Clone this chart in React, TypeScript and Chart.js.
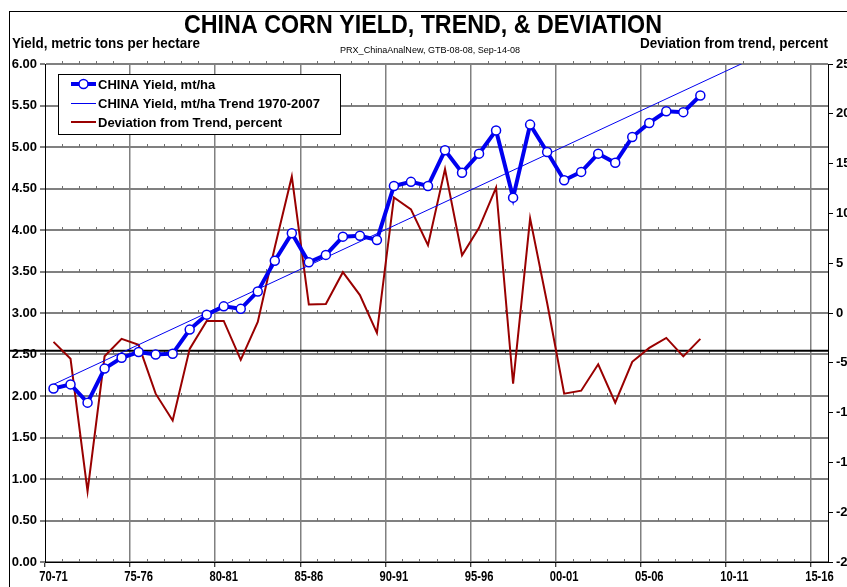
import React, { useEffect, useRef } from "react";
import { Chart, registerables } from "chart.js";

Chart.register(...registerables);

const categories = [
  "70-71", "71-72", "72-73", "73-74", "74-75", "75-76", "76-77", "77-78", "78-79", "79-80",
  "80-81", "81-82", "82-83", "83-84", "84-85", "85-86", "86-87", "87-88", "88-89", "89-90",
  "90-91", "91-92", "92-93", "93-94", "94-95", "95-96", "96-97", "97-98", "98-99", "99-00",
  "00-01", "01-02", "02-03", "03-04", "04-05", "05-06", "06-07", "07-08", "08-09", "09-10",
  "10-11", "11-12", "12-13", "13-14", "14-15", "15-16",
];

const yieldValues = [
  2.09, 2.14, 1.92, 2.33, 2.46, 2.53, 2.5, 2.51, 2.8, 2.98,
  3.08, 3.05, 3.26, 3.63, 3.96, 3.61, 3.7, 3.92, 3.93, 3.88,
  4.53, 4.58, 4.53, 4.96, 4.69, 4.92, 5.2, 4.39, 5.27, 4.94,
  4.6, 4.7, 4.92, 4.81, 5.12, 5.29, 5.43, 5.42, 5.62,
];

const deviationValues = [
  -2.9, -4.6, -17.9, -4.35, -2.6, -3.2, -8.1, -10.8, -3.6, -0.8,
  -0.8, -4.7, -0.9, 6.6, 13.7, 0.85, 0.9, 4.1, 1.8, -2.0,
  11.6, 10.4, 6.8, 14.45, 5.8, 8.55, 12.6, -7.1, 9.5, 1.0,
  -8.1, -7.8, -5.15, -9.0, -4.9, -3.5, -2.5, -4.35, -2.6,
];

const trendStart = 2.14;
const trendEnd = 6.44;
const referenceLineValue = -3.8;

const yieldTicks = { min: 0, max: 6, step: 0.5 };
const deviationTicks = { min: -25, max: 25, step: 5 };

const titleText = "CHINA CORN YIELD, TREND, & DEVIATION";
const subtitleText = "PRX_ChinaAnalNew, GTB-08-08, Sep-14-08";
const leftAxisTitle = "Yield, metric tons per hectare";
const rightAxisTitle = "Deviation from trend, percent";
const legendLabels = [
  "CHINA Yield, mt/ha",
  "CHINA Yield, mt/ha Trend 1970-2007",
  "Deviation from Trend, percent",
];

const BLUE = "#0000f0";
const RED = "#990000";
const GRID = "#808080";
const FONT = "'Liberation Sans', Arial, sans-serif";

function fitText(
  ctx: CanvasRenderingContext2D,
  text: string,
  x: number,
  y: number,
  font: string,
  width: number,
  align: CanvasTextAlign
) {
  ctx.save();
  ctx.font = font;
  const w = ctx.measureText(text).width;
  ctx.translate(x, y);
  ctx.scale(width / w, 1);
  ctx.textAlign = align;
  ctx.textBaseline = "alphabetic";
  ctx.fillStyle = "#000";
  ctx.fillText(text, 0, 0);
  ctx.restore();
}

function narrowText(
  ctx: CanvasRenderingContext2D,
  text: string,
  x: number,
  y: number,
  font: string,
  scaleX: number
) {
  ctx.save();
  ctx.font = font;
  ctx.translate(x, y);
  ctx.scale(scaleX, 1);
  ctx.textAlign = "center";
  ctx.textBaseline = "middle";
  ctx.fillStyle = "#000";
  ctx.fillText(text, 0, 0);
  ctx.restore();
}

const decorPlugin = {
  id: "decor",
  beforeDatasetsDraw(chart: any) {
    const { ctx, chartArea, scales } = chart;
    const x = scales.x;
    const y = scales.y;
    const y1 = scales.y1;
    ctx.save();
    ctx.strokeStyle = "#707070";
    ctx.lineWidth = 1;
    for (let v = yieldTicks.min; v <= yieldTicks.max + 1e-9; v += yieldTicks.step) {
      const py = Math.round(y.getPixelForValue(v));
      for (let i = 1; i < categories.length; i++) {
        if (i % 5 === 0) continue;
        const px = Math.round((x.getPixelForValue(i - 1) + x.getPixelForValue(i)) / 2) + 0.5;
        ctx.beginPath();
        ctx.moveTo(px, py - 3);
        ctx.lineTo(px, py);
        ctx.stroke();
      }
    }
    const ry = y1.getPixelForValue(referenceLineValue);
    ctx.strokeStyle = "#000";
    ctx.lineWidth = 2;
    ctx.beginPath();
    ctx.moveTo(9, ry);
    ctx.lineTo(chartArea.right, ry);
    ctx.stroke();
    ctx.restore();
  },
  afterDraw(chart: any) {
    const { ctx, scales } = chart;
    const x = scales.x;
    ctx.save();
    ctx.strokeStyle = "#000";
    ctx.lineWidth = 1;
    ctx.strokeRect(9.5, 11.5, 2000, 2000);

    fitText(ctx, titleText, 423, 33, `bold 26px ${FONT}`, 478, "center");
    fitText(ctx, leftAxisTitle, 12, 48, `bold 14px ${FONT}`, 188, "left");
    fitText(ctx, rightAxisTitle, 828, 48, `bold 14px ${FONT}`, 188, "right");
    fitText(ctx, subtitleText, 430, 53, `9px ${FONT}`, 180, "center");

    for (let i = 0; i < categories.length; i += 5) {
      const px = x.getPixelForValue(i);
      narrowText(ctx, categories[i], px, 577, `bold 14px ${FONT}`, 0.8);
    }

    const bx = 58.5, by = 74.5, bw = 282, bh = 60;
    ctx.fillStyle = "#fff";
    ctx.fillRect(bx, by, bw, bh);
    ctx.strokeStyle = "#000";
    ctx.lineWidth = 1;
    ctx.strokeRect(bx, by, bw, bh);
    const rows = [84, 103, 122];
    const sx0 = 71, sx1 = 96;
    ctx.strokeStyle = BLUE;
    ctx.lineWidth = 4;
    ctx.beginPath();
    ctx.moveTo(sx0, rows[0]);
    ctx.lineTo(sx1, rows[0]);
    ctx.stroke();
    ctx.beginPath();
    ctx.arc((sx0 + sx1) / 2, rows[0], 4.5, 0, Math.PI * 2);
    ctx.fillStyle = "#fff";
    ctx.fill();
    ctx.lineWidth = 1.5;
    ctx.stroke();
    ctx.lineWidth = 1;
    ctx.beginPath();
    ctx.moveTo(sx0, rows[1] + 0.5);
    ctx.lineTo(sx1, rows[1] + 0.5);
    ctx.stroke();
    ctx.strokeStyle = RED;
    ctx.lineWidth = 2;
    ctx.beginPath();
    ctx.moveTo(sx0, rows[2]);
    ctx.lineTo(sx1, rows[2]);
    ctx.stroke();
    ctx.fillStyle = "#000";
    ctx.font = `bold 13px ${FONT}`;
    ctx.textAlign = "left";
    ctx.textBaseline = "middle";
    legendLabels.forEach((t, i) => ctx.fillText(t, 98, rows[i] + 1));
    ctx.restore();
  },
};

export default function App() {
  const canvasRef = useRef<HTMLCanvasElement | null>(null);

  useEffect(() => {
    if (!canvasRef.current) return;
    const n = categories.length;
    const trendValues = categories.map((_, i) =>
      i === 0 ? trendStart : i === n - 1 ? trendEnd : null
    );
    const tickFont = { family: FONT, weight: "bold" as const, size: 13 };
    const chart = new Chart(canvasRef.current, {
      type: "line",
      data: {
        labels: categories,
        datasets: [
          {
            label: legendLabels[0],
            data: yieldValues,
            yAxisID: "y",
            borderColor: BLUE,
            borderWidth: 4,
            pointRadius: 4.5,
            pointBackgroundColor: "#fff",
            pointBorderColor: BLUE,
            pointBorderWidth: 1.5,
            tension: 0,
          },
          {
            label: legendLabels[1],
            data: trendValues,
            yAxisID: "y",
            borderColor: BLUE,
            borderWidth: 1,
            pointRadius: 0,
            spanGaps: true,
            tension: 0,
          },
          {
            label: legendLabels[2],
            data: deviationValues,
            yAxisID: "y1",
            borderColor: RED,
            borderWidth: 2,
            pointRadius: 0,
            tension: 0,
          },
        ],
      },
      options: {
        animation: false,
        responsive: false,
        devicePixelRatio: 1,
        layout: { padding: { top: 64, left: 0, right: 0, bottom: 0 } },
        plugins: {
          legend: { display: false },
          title: { display: false },
          tooltip: { enabled: false },
        },
        scales: {
          x: {
            type: "category",
            offset: true,
            grid: {
              offset: true,
              color: (c: any) =>
                typeof c.index === "number" && c.index % 5 === 0 && c.index > 0
                  ? GRID
                  : "rgba(0,0,0,0)",
              lineWidth: 1.5,
              drawTicks: true,
              tickLength: 5,
              tickColor: (c: any) =>
                typeof c.index === "number" && c.index % 5 === 0 ? "#000" : "rgba(0,0,0,0)",
              tickWidth: 1,
            },
            border: { display: true, color: "#000", width: 1 },
            ticks: { display: false, autoSkip: false, maxRotation: 0 },
            afterFit: (s: any) => {
              s.height = 38;
            },
          },
          y: {
            position: "left",
            min: yieldTicks.min,
            max: yieldTicks.max,
            ticks: {
              stepSize: yieldTicks.step,
              callback: (v: any) => Number(v).toFixed(2),
              font: tickFont,
              color: "#000",
              padding: 3,
            },
            grid: { color: GRID, lineWidth: 2, tickLength: 5, tickColor: "#000", tickWidth: 1 },
            border: { color: "#000", width: 1 },
            afterFit: (s: any) => {
              s.width = 45;
            },
          },
          y1: {
            position: "right",
            min: deviationTicks.min,
            max: deviationTicks.max,
            ticks: {
              stepSize: deviationTicks.step,
              font: tickFont,
              color: "#000",
              padding: 3,
            },
            grid: { drawOnChartArea: false, tickLength: 5, tickColor: "#000", tickWidth: 1 },
            border: { color: "#000", width: 1 },
            afterFit: (s: any) => {
              s.width = 42;
            },
          },
        },
      },
      plugins: [decorPlugin],
    });
    return () => chart.destroy();
  }, []);

  return (
    <div
      style={{
        position: "fixed",
        left: 0,
        top: 0,
        width: 847,
        height: 587,
        overflow: "hidden",
        background: "#fff",
      }}
    >
      <canvas
        ref={canvasRef}
        width={870}
        height={600}
        style={{ position: "absolute", left: 0, top: 0, width: 870, height: 600, display: "block" }}
      />
    </div>
  );
}
